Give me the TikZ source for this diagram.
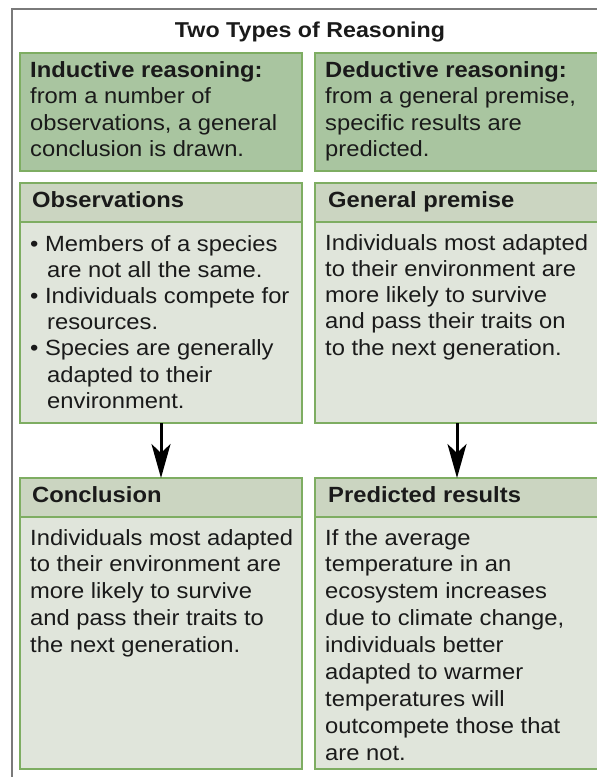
\documentclass[tikz,border=0pt]{standalone}
\usepackage{fontspec}
\setmainfont{Liberation Sans}[FakeStretch=1.08]
\usetikzlibrary{arrows.meta}
\definecolor{framegray}{HTML}{7A7A7A}
\definecolor{topfill}{HTML}{A9C5A0}
\definecolor{edgegreen}{HTML}{7EAD62}
\definecolor{headfill}{HTML}{CBD5C1}
\definecolor{bodyfill}{HTML}{E0E5DB}
\definecolor{ink}{HTML}{1A1A1A}
\newcommand{\lines}[2]{\parbox[t]{275pt}{\fontsize{22}{#1}\selectfont #2}}
\begin{document}
\begin{tikzpicture}[x=1pt,y=-1pt,
  box/.style={draw=edgegreen, line width=2pt, anchor=north west, inner sep=0pt, outer sep=0pt, rectangle},
  topbox/.style={box, fill=topfill},
  headbox/.style={box, fill=headfill},
  bodybox/.style={box, fill=bodyfill},
  txt/.style={anchor=base west, inner sep=0pt, text=ink, font=\fontsize{22}{26.5}\selectfont},
  headtxt/.style={txt, font=\bfseries\fontsize{22}{26.5}\selectfont},
  arr/.style={-{Stealth[length=34pt,width=19pt,inset=9pt]}, line width=3pt, black}]
\useasboundingbox (0,0) rectangle (597,777);
\fill[white] (0,0) rectangle (597,777);
% outer frame
\draw[framegray, line width=2pt] (12,790) -- (12,9) -- (610,9);
% title
\node[anchor=base, inner sep=0pt, text=ink, font=\bfseries\fontsize{21.5}{26}\selectfont] (title) at (310,37) {Two Types of Reasoning};
% top boxes
\node[topbox, minimum width=282pt, minimum height=118pt] (ind) at (20,53) {};
\node[topbox, minimum width=284pt, minimum height=118pt] (ded) at (315,53) {};
\node[txt] (indtxt) at (30,77) {\lines{26.6}{\textbf{Inductive reasoning:}\\from a number of\\observations, a general\\conclusion is drawn.}};
\node[txt] (dedtxt) at (325,77) {\lines{26.6}{\textbf{Deductive reasoning:}\\from a general premise,\\specific results are\\predicted.}};
% middle boxes
\node[bodybox, minimum width=282pt, minimum height=201pt] (obsbody) at (20,222) {};
\node[headbox, minimum width=282pt, minimum height=39pt] (obshead) at (20,183) {};
\node[bodybox, minimum width=284pt, minimum height=201pt] (genbody) at (315,222) {};
\node[headbox, minimum width=284pt, minimum height=39pt] (genhead) at (315,183) {};
\node[headtxt] (obstitle) at (32,207) {Observations};
\node[headtxt] (gentitle) at (328,207) {General premise};
\node[txt] (obstxt) at (30,251) {\lines{26.2}{• Members of a species\\\hspace*{17pt}are not all the same.\\• Individuals compete for\\\hspace*{17pt}resources.\\• Species are generally\\\hspace*{17pt}adapted to their\\\hspace*{17pt}environment.}};
\node[txt] (gentxt) at (325,250) {\lines{26.3}{Individuals most adapted\\to their environment are\\more likely to survive\\and pass their traits on\\to the next generation.}};
% bottom boxes
\node[bodybox, minimum width=282pt, minimum height=252pt] (concbody) at (20,517) {};
\node[headbox, minimum width=282pt, minimum height=39pt] (conchead) at (20,478) {};
\node[bodybox, minimum width=284pt, minimum height=252pt] (predbody) at (315,517) {};
\node[headbox, minimum width=284pt, minimum height=39pt] (predhead) at (315,478) {};
\node[headtxt] (conctitle) at (32,502) {Conclusion};
\node[headtxt] (predtitle) at (328,502) {Predicted results};
\node[txt] (conctxt) at (30,545) {\lines{26.75}{Individuals most adapted\\to their environment are\\more likely to survive\\and pass their traits to\\the next generation.}};
\node[txt] (predtxt) at (325,545) {\lines{26.9}{If the average\\temperature in an\\ecosystem increases\\due to climate change,\\individuals better\\adapted to warmer\\temperatures will\\outcompete those that\\are not.}};
% arrows
\draw[arr] (obsbody.south) -- (conchead.north);
\draw[arr] (genbody.south) -- (predhead.north);
\end{tikzpicture}
\end{document}
